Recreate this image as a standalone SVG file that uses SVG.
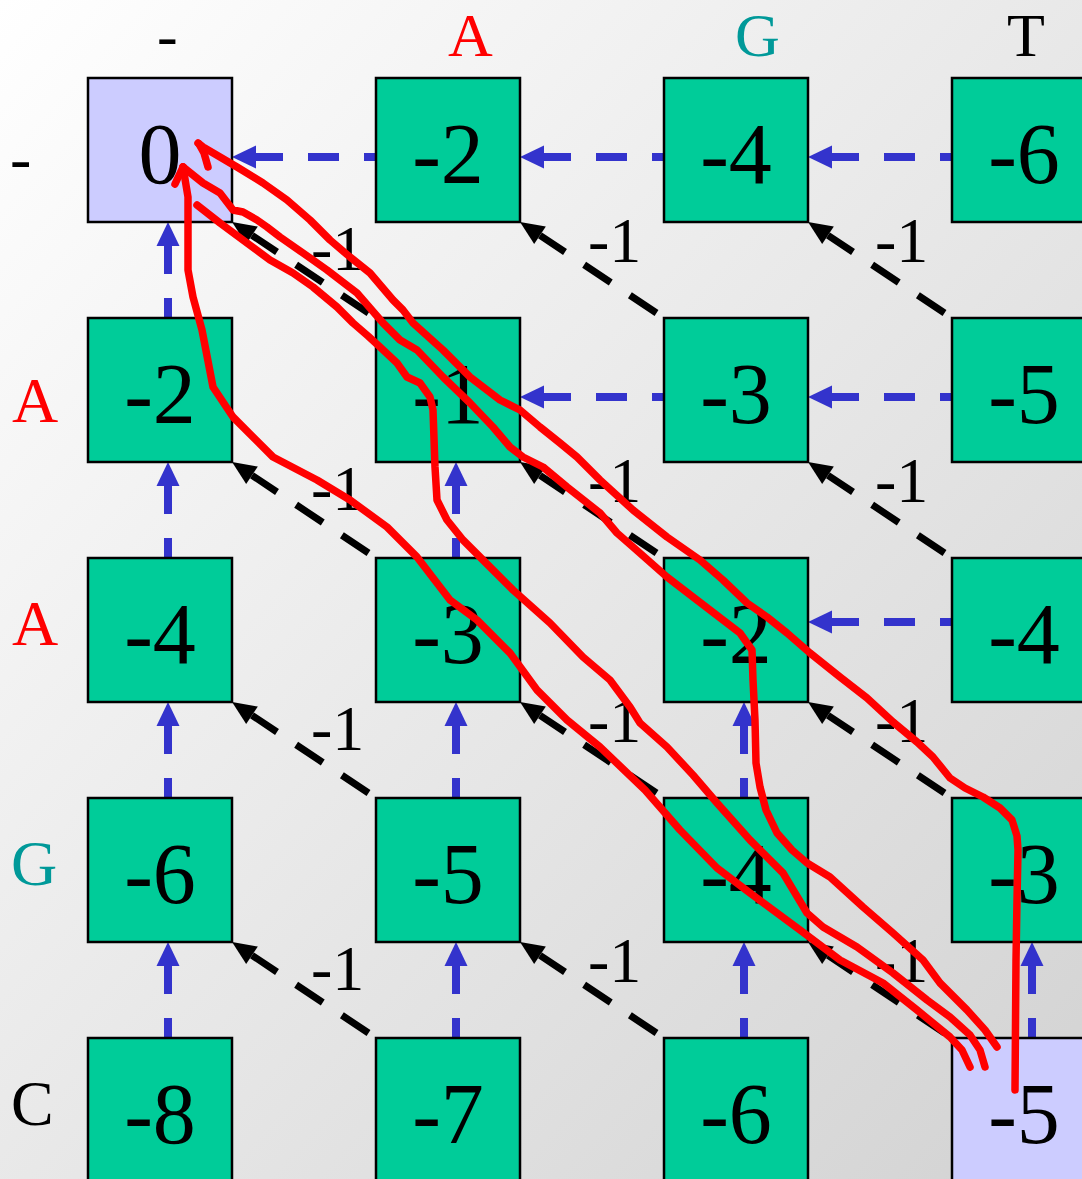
<svg xmlns="http://www.w3.org/2000/svg" width="1082" height="1179" viewBox="0 0 1082 1179">
<defs>
<linearGradient id="bg" x1="0" y1="0" x2="1" y2="1">
<stop offset="0" stop-color="#ffffff"/>
<stop offset="1" stop-color="#d2d2d2"/>
</linearGradient>
<marker id="ab" markerUnits="userSpaceOnUse" markerWidth="24" markerHeight="24" refX="0" refY="0" orient="auto" overflow="visible">
<path d="M0,-11.5 L24,0 L0,11.5 z" fill="#3333cc"/>
</marker>
<marker id="ak" markerUnits="userSpaceOnUse" markerWidth="24" markerHeight="24" refX="0" refY="0" orient="auto" overflow="visible">
<path d="M0,-10.5 L24,0 L0,10.5 z" fill="#000000"/>
</marker>
<style>
.box{stroke:#000;stroke-width:2.5}
.g{fill:#00cc99}
.p{fill:#ccccff}
.num{font-family:"Liberation Serif","Times New Roman",serif;font-size:86px;text-anchor:middle;fill:#000}
.lab{font-family:"Liberation Serif","Times New Roman",serif;font-size:64px;fill:#000}
.hd{font-family:"Liberation Serif","Times New Roman",serif;font-size:62px;fill:#000}
.h{stroke:#3333cc;stroke-width:8;fill:none;stroke-dasharray:31 25;stroke-dashoffset:19;marker-end:url(#ab)}
.v{stroke:#3333cc;stroke-width:8;fill:none;stroke-dasharray:28 24;stroke-dashoffset:8;marker-end:url(#ab)}
.d{stroke:#000;stroke-width:7;fill:none;stroke-dasharray:32 23;stroke-dashoffset:46;marker-end:url(#ak)}
.red{stroke:#ff0000;stroke-width:7.5;fill:none;stroke-linejoin:round;stroke-linecap:round}
</style>
</defs>
<rect x="0" y="0" width="1082" height="1179" fill="url(#bg)"/>

<g id="headers">
<text class="hd" x="157" y="56">-</text>
<text class="hd" x="448" y="56" style="fill:#ff0000">A</text>
<text class="hd" x="735" y="56" style="fill:#009999">G</text>
<text class="hd" x="1007" y="56">T</text>
<text class="lab" x="10" y="180">-</text>
<text class="lab" x="12" y="422" style="fill:#ff0000">A</text>
<text class="lab" x="12" y="645" style="fill:#ff0000">A</text>
<text class="lab" x="11" y="885" style="fill:#009999">G</text>
<text class="lab" x="11" y="1125">C</text>
</g>

<g id="connectors">
<line class="h" x1="376" y1="157" x2="256" y2="157"/>
<line class="h" x1="664" y1="157" x2="544" y2="157"/>
<line class="h" x1="952" y1="157" x2="832" y2="157"/>
<line class="h" x1="664" y1="397" x2="544" y2="397"/>
<line class="h" x1="952" y1="397" x2="832" y2="397"/>
<line class="h" x1="952" y1="622" x2="832" y2="622"/>

<line class="v" x1="168" y1="318" x2="168" y2="246"/>
<line class="v" x1="168" y1="558" x2="168" y2="486"/>
<line class="v" x1="168" y1="798" x2="168" y2="726"/>
<line class="v" x1="168" y1="1038" x2="168" y2="966"/>
<line class="v" x1="456" y1="558" x2="456" y2="486"/>
<line class="v" x1="456" y1="798" x2="456" y2="726"/>
<line class="v" x1="456" y1="1038" x2="456" y2="966"/>
<line class="v" x1="744" y1="798" x2="744" y2="726"/>
<line class="v" x1="744" y1="1038" x2="744" y2="966"/>
<line class="v" x1="1032" y1="1038" x2="1032" y2="966"/>

<line class="d" x1="376" y1="318" x2="252" y2="235.3"/>
<line class="d" x1="664" y1="318" x2="540" y2="235.3"/>
<line class="d" x1="952" y1="318" x2="828" y2="235.3"/>
<line class="d" x1="376" y1="558" x2="252" y2="475.3"/>
<line class="d" x1="664" y1="558" x2="540" y2="475.3"/>
<line class="d" x1="952" y1="558" x2="828" y2="475.3"/>
<line class="d" x1="376" y1="798" x2="252" y2="715.3"/>
<line class="d" x1="664" y1="798" x2="540" y2="715.3"/>
<line class="d" x1="952" y1="798" x2="828" y2="715.3"/>
<line class="d" x1="376" y1="1038" x2="252" y2="955.3"/>
<line class="d" x1="664" y1="1038" x2="540" y2="955.3"/>
<line class="d" x1="952" y1="1038" x2="828" y2="955.3"/>

<text class="lab" x="311" y="270">-1</text>
<text class="lab" x="588" y="262">-1</text>
<text class="lab" x="875" y="262">-1</text>
<text class="lab" x="311" y="510">-1</text>
<text class="lab" x="588" y="502">-1</text>
<text class="lab" x="875" y="502">-1</text>
<text class="lab" x="311" y="750">-1</text>
<text class="lab" x="588" y="742">-1</text>
<text class="lab" x="875" y="742">-1</text>
<text class="lab" x="311" y="990">-1</text>
<text class="lab" x="588" y="982">-1</text>
<text class="lab" x="875" y="982">-1</text>
</g>

<g id="n00"><rect class="box p" x="88" y="78" width="144" height="144"/><text class="num" x="160" y="183">0</text></g>
<g id="n01"><rect class="box g" x="376" y="78" width="144" height="144"/><text class="num" x="448" y="183">-2</text></g>
<g id="n02"><rect class="box g" x="664" y="78" width="144" height="144"/><text class="num" x="736" y="183">-4</text></g>
<g id="n03"><rect class="box g" x="952" y="78" width="144" height="144"/><text class="num" x="1024" y="183">-6</text></g>

<g id="n10"><rect class="box g" x="88" y="318" width="144" height="144"/><text class="num" x="160" y="423">-2</text></g>
<g id="n11"><rect class="box g" x="376" y="318" width="144" height="144"/><text class="num" x="448" y="423">-1</text></g>
<g id="n12"><rect class="box g" x="664" y="318" width="144" height="144"/><text class="num" x="736" y="423">-3</text></g>
<g id="n13"><rect class="box g" x="952" y="318" width="144" height="144"/><text class="num" x="1024" y="423">-5</text></g>

<g id="n20"><rect class="box g" x="88" y="558" width="144" height="144"/><text class="num" x="160" y="663">-4</text></g>
<g id="n21"><rect class="box g" x="376" y="558" width="144" height="144"/><text class="num" x="448" y="663">-3</text></g>
<g id="n22"><rect class="box g" x="664" y="558" width="144" height="144"/><text class="num" x="736" y="663">-2</text></g>
<g id="n23"><rect class="box g" x="952" y="558" width="144" height="144"/><text class="num" x="1024" y="663">-4</text></g>

<g id="n30"><rect class="box g" x="88" y="798" width="144" height="144"/><text class="num" x="160" y="903">-6</text></g>
<g id="n31"><rect class="box g" x="376" y="798" width="144" height="144"/><text class="num" x="448" y="903">-5</text></g>
<g id="n32"><rect class="box g" x="664" y="798" width="144" height="144"/><text class="num" x="736" y="903">-4</text></g>
<g id="n33"><rect class="box g" x="952" y="798" width="144" height="144"/><text class="num" x="1024" y="903">-3</text></g>

<g id="n40"><rect class="box g" x="88" y="1038" width="144" height="144"/><text class="num" x="160" y="1143">-8</text></g>
<g id="n41"><rect class="box g" x="376" y="1038" width="144" height="144"/><text class="num" x="448" y="1143">-7</text></g>
<g id="n42"><rect class="box g" x="664" y="1038" width="144" height="144"/><text class="num" x="736" y="1143">-6</text></g>
<g id="n43"><rect class="box p" x="952" y="1038" width="144" height="144"/><text class="num" x="1024" y="1143">-5</text></g>

<g id="trace">
<path class="red" d="M1015,1090 L1016,960 L1017,900 L1018,850 L1017,836 L1012,820 L1000,808 L983,797 L965,788 L950,778 L933,757 L917,742 L893,722 L867,698 L840,677 L810,653 L787,633 L767,617 L747,603 L723,580 L700,560 L667,537 L633,510 L600,480 L577,457 L560,443 L540,427 L520,410 L500,400 L470,377 L443,350 L413,323 L403,310 L393,300 L370,273 L350,257 L330,240 L310,220 L287,200 L263,183 L237,167 L203,147 L198,143"/>
<path class="red" d="M199,144 L204,153 L208,167"/>
<path class="red" d="M183,167 L203,183 L220,193 L233,210 L243,212 L257,220 L267,227 L280,237 L303,253 L327,270 L357,293 L383,323 L400,340 L417,350 L443,377 L470,403 L493,427 L510,447 L523,457 L543,467 L567,487 L600,513 L617,533 L633,547 L667,577 L693,597 L723,620 L740,633 L752,650 L753,680 L755,720 L756,763 L760,787 L766,810 L777,833 L792,850 L807,863 L830,877 L863,907 L893,933 L923,960 L940,983 L967,1010 L985,1030 L997,1047"/>
<path class="red" d="M197,205 L220,223 L247,243 L270,260 L293,273 L313,287 L337,307 L353,323 L368,336 L380,347 L397,363 L407,377 L420,383 L430,397 L433,410 L435,467 L437,500 L447,520 L463,540 L483,560 L513,590 L550,623 L583,657 L610,680 L630,707 L640,723 L667,747 L693,775 L717,803 L750,840 L783,873 L807,913 L823,927 L857,947 L893,973 L927,1000 L950,1017 L970,1035 L980,1050 L985,1067"/>
<path class="red" d="M183,167 L186,185 L188,197 L188,270 L193,297 L202,330 L213,387 L233,417 L273,457 L317,480 L350,500 L387,527 L417,557 L450,600 L477,620 L510,653 L537,690 L567,720 L600,747 L645,790 L680,830 L717,868 L750,893 L800,930 L840,960 L883,983 L917,1010 L950,1037 L962,1050 L970,1067"/>
<path class="red" d="M183,167 L175,184"/>
</g>
</svg>
